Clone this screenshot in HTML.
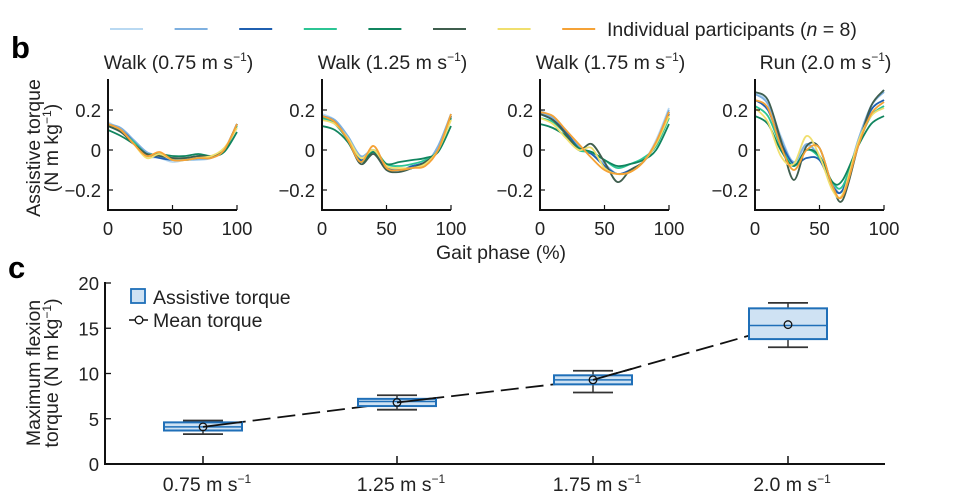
<!DOCTYPE html>
<html><head><meta charset="utf-8"><style>
body{margin:0;background:#fff;}
svg{display:block;font-family:"Liberation Sans",Arial,sans-serif;}
</style></head><body>
<svg id="fig" width="966" height="503" viewBox="0 0 966 503"></svg>
<script>
const NS='http://www.w3.org/2000/svg';
const svg=document.getElementById('fig');
function mk(tag,attrs,parent,text){const e=document.createElementNS(NS,tag);for(const k in attrs)e.setAttribute(k,attrs[k]);if(text!==undefined)e.textContent=text;(parent||svg).appendChild(e);return e;}

// ---- data ----
const colors=['#b9d9f2','#7eb0e0','#1f5fb0','#2cc594','#11855f','#3f5e4e','#f0df6e','#f5a236'];
const panelTitles=['Walk (0.75 m s','Walk (1.25 m s','Walk (1.75 m s','Run (2.0 m s'];
const walkPhase=[0,10,20,30,40,50,60,70,80,90,100];
const runPhase=[0,10,20,30,40,50,60,68,80,90,100];
const walk075=[
[0.14,0.10,0.04,-0.03,-0.04,-0.06,-0.05,-0.05,-0.04,0.0,0.13],
[0.13,0.11,0.05,-0.01,-0.03,-0.05,-0.05,-0.045,-0.04,0.0,0.13],
[0.13,0.10,0.04,-0.02,-0.04,-0.05,-0.05,-0.04,-0.035,0.0,0.13],
[0.12,0.09,0.04,-0.02,-0.02,-0.04,-0.04,-0.03,-0.03,0.0,0.12],
[0.10,0.07,0.03,-0.02,-0.02,-0.03,-0.03,-0.02,-0.03,-0.01,0.09],
[0.12,0.09,0.03,-0.02,-0.03,-0.04,-0.04,-0.03,-0.03,0.0,0.13],
[0.13,0.10,0.03,-0.04,-0.02,-0.05,-0.05,-0.04,-0.03,0.01,0.11],
[0.13,0.10,0.03,-0.03,-0.01,-0.05,-0.05,-0.04,-0.04,0.0,0.13]];
const walk125=[
[0.18,0.15,0.07,-0.03,-0.01,-0.08,-0.10,-0.09,-0.07,0.02,0.18],
[0.17,0.15,0.07,-0.03,0.0,-0.08,-0.10,-0.09,-0.07,0.02,0.18],
[0.16,0.13,0.05,-0.05,-0.01,-0.09,-0.10,-0.08,-0.06,0.0,0.16],
[0.16,0.13,0.05,-0.06,0.0,-0.07,-0.08,-0.07,-0.05,0.0,0.16],
[0.12,0.10,0.04,-0.06,-0.01,-0.07,-0.06,-0.05,-0.04,-0.01,0.12],
[0.17,0.14,0.05,-0.07,-0.02,-0.10,-0.11,-0.09,-0.06,0.0,0.17],
[0.15,0.13,0.06,-0.04,0.0,-0.08,-0.09,-0.09,-0.07,0.0,0.15],
[0.17,0.14,0.05,-0.06,0.02,-0.09,-0.10,-0.09,-0.08,0.0,0.18]];
const walk175=[
[0.20,0.16,0.10,0.02,-0.02,-0.08,-0.12,-0.10,-0.06,0.05,0.21],
[0.19,0.16,0.10,0.02,-0.02,-0.07,-0.12,-0.10,-0.06,0.04,0.20],
[0.18,0.15,0.09,0.01,-0.02,-0.08,-0.12,-0.10,-0.06,0.03,0.18],
[0.16,0.14,0.08,0.0,-0.01,-0.05,-0.09,-0.07,-0.04,0.02,0.16],
[0.13,0.11,0.07,0.01,-0.01,-0.05,-0.08,-0.07,-0.05,0.0,0.13],
[0.18,0.15,0.08,0.0,0.03,-0.06,-0.16,-0.10,-0.06,0.03,0.19],
[0.16,0.13,0.06,0.0,0.01,-0.09,-0.12,-0.11,-0.06,0.03,0.17],
[0.19,0.17,0.10,0.03,-0.04,-0.10,-0.12,-0.11,-0.06,0.04,0.19]];
const run20=[
[0.29,0.24,0.07,-0.06,0.02,-0.03,-0.17,-0.20,0.05,0.22,0.30],
[0.28,0.23,0.06,-0.06,0.03,-0.04,-0.17,-0.20,0.05,0.22,0.29],
[0.25,0.20,0.04,-0.07,-0.04,-0.05,-0.18,-0.20,0.03,0.20,0.25],
[0.22,0.17,0.02,-0.08,0.0,-0.04,-0.16,-0.18,0.03,0.17,0.22],
[0.17,0.13,0.0,-0.08,0.0,-0.03,-0.16,-0.15,0.02,0.13,0.17],
[0.29,0.25,0.05,-0.15,0.02,0.01,-0.18,-0.25,0.02,0.22,0.30],
[0.21,0.14,-0.03,-0.07,0.07,-0.03,-0.20,-0.22,0.04,0.17,0.21],
[0.25,0.21,0.02,-0.10,0.0,0.01,-0.18,-0.23,0.02,0.18,0.24]];
const yTicksTop=[-0.2,0,0.2];
const yTickLabelsTop=['\u22120.2','0','0.2'];
const xTicksTop=[0,50,100];

const speedCats=['0.75 m s','1.25 m s','1.75 m s','2.0 m s'];
const boxQ1=[3.7,6.4,8.8,13.8];
const boxMedian=[4.1,6.9,9.3,15.3];
const boxQ3=[4.6,7.2,9.8,17.2];
const whiskLo=[3.3,6.0,7.9,12.9];
const whiskHi=[4.8,7.6,10.3,17.8];
const meanTorque=[4.1,6.8,9.3,15.4];
const yTicksBot=[0,5,10,15,20];

const FS=19.5, TFS=18.5;

// ---- top legend ----
const lg=mk('g',{});
colors.forEach((c,i)=>{const l=mk('line',{x1:110+i*64.6,x2:143+i*64.6,y1:29,y2:29,stroke:c,'stroke-width':2},lg);

});
const lt=mk('text',{x:607,y:36,'font-size':FS,fill:'#222'},lg);

lt.innerHTML='Individual participants (<tspan font-style="italic">n</tspan> = 8)';

mk('text',{x:11,y:58,'font-size':31,'font-weight':'bold',},svg,'b');
mk('text',{x:8,y:278,'font-size':31,'font-weight':'bold',},svg,'c');

// ---- top panels ----
const panelX=[108,322,540,755];
const W=129, yTop=79, yBot=210;
const ysT=v=>150-v*200;
function smoothPath(pts){let d='M'+pts[0][0]+','+pts[0][1];for(let i=0;i<pts.length-1;i++){const p0=pts[Math.max(0,i-1)],p1=pts[i],p2=pts[i+1],p3=pts[Math.min(pts.length-1,i+2)];
const c1=[p1[0]+(p2[0]-p0[0])/6,p1[1]+(p2[1]-p0[1])/6],c2=[p2[0]-(p3[0]-p1[0])/6,p2[1]-(p3[1]-p1[1])/6];
d+=' C'+c1.join(',')+' '+c2.join(',')+' '+p2.join(',');}return d;}
const panelData=[walk075,walk125,walk175,run20];
const panelPhase=[walkPhase,walkPhase,walkPhase,runPhase];
panelData.forEach((series,pi)=>{
  const x0=panelX[pi];const xs=v=>x0+v/100*W;
  const g=mk('g',{});
  const t=mk('text',{x:x0+W/2+6,y:69,'font-size':FS,'text-anchor':'middle',fill:'#222'},g);
  
  t.innerHTML=panelTitles[pi]+'<tspan dy="-8" font-size="12">\u22121</tspan><tspan dy="8">)</tspan>';
  series.forEach((vals,si)=>{
    const pts=vals.map((v,k)=>[xs(panelPhase[pi][k]),ysT(v)]);
    const p=mk('path',{d:smoothPath(pts),fill:'none',stroke:colors[si],'stroke-width':1.8},g);
    
    
  });
  mk('line',{x1:x0,x2:x0,y1:yTop,y2:yBot+1,stroke:'#111','stroke-width':2},g);
  mk('line',{x1:x0-1,x2:x0+W,y1:yBot,y2:yBot,stroke:'#111','stroke-width':2},g);
  yTicksTop.forEach((v,k)=>{
    mk('line',{x1:x0,x2:x0+5,y1:ysT(v),y2:ysT(v),stroke:'#111','stroke-width':1.2},g);
    const tl=mk('text',{x:x0-7,y:ysT(v)+7,'font-size':TFS,'text-anchor':'end',fill:'#222'},g,yTickLabelsTop[k]);
    
  });
  xTicksTop.forEach(v=>{
    mk('line',{x1:xs(v),x2:xs(v),y1:yBot,y2:yBot-5,stroke:'#111','stroke-width':1.2},g);
    const tl=mk('text',{x:xs(v),y:235,'font-size':TFS,'text-anchor':'middle',fill:'#222'},g,String(v));
    
  });
});
mk('text',{x:501,y:259,'font-size':FS,'text-anchor':'middle',fill:'#222',},svg,'Gait phase (%)');
const yt=mk('text',{transform:'translate(40,148) rotate(-90)','font-size':FS,'text-anchor':'middle',fill:'#222',});
yt.innerHTML='<tspan x="0" dy="0">Assistive torque</tspan><tspan x="0" dy="18">(N m kg</tspan><tspan dy="-7" font-size="12">\u22121</tspan><tspan dy="7">)</tspan>';

// ---- bottom chart ----
const bx0=105,bx1=885;
const ysB=v=>464-v*9.05;
const catX=[203,397,593,788];
const bg=mk('g',{});
const mp=mk('polyline',{points:meanTorque.map((v,i)=>catX[i]+','+ysB(v)).join(' '),fill:'none',stroke:'#111','stroke-width':1.8,'stroke-dasharray':'18,7'},bg);

catX.forEach((cx,i)=>{
  const g=mk('g',{},bg);
  
  mk('line',{x1:cx,x2:cx,y1:ysB(whiskLo[i]),y2:ysB(whiskHi[i]),stroke:'#333','stroke-width':1.5},g);
  mk('line',{x1:cx-20,x2:cx+20,y1:ysB(whiskLo[i]),y2:ysB(whiskLo[i]),stroke:'#333','stroke-width':1.8},g);
  mk('line',{x1:cx-20,x2:cx+20,y1:ysB(whiskHi[i]),y2:ysB(whiskHi[i]),stroke:'#333','stroke-width':1.8},g);
  mk('rect',{x:cx-39,y:ysB(boxQ3[i]),width:78,height:ysB(boxQ1[i])-ysB(boxQ3[i]),fill:'#cfe2f3',stroke:'#1f6fb8','stroke-width':2},g);
  mk('line',{x1:cx-39,x2:cx+39,y1:ysB(boxMedian[i]),y2:ysB(boxMedian[i]),stroke:'#1f6fb8','stroke-width':1.5},g);
  if(i<catX.length-1){
    const nx=catX[i+1], ny=ysB(meanTorque[i+1]), cy=ysB(meanTorque[i]);
    const ex=cx+39, ey=cy+(ny-cy)*(39/(nx-cx));
    mk('line',{x1:cx,y1:cy,x2:ex,y2:ey,stroke:'#111','stroke-width':1.8},g);
  }
  const c=mk('circle',{cx:cx,cy:ysB(meanTorque[i]),r:3.8,fill:'none',stroke:'#111','stroke-width':1.3},g);
  
  mk('line',{x1:cx,x2:cx,y1:464,y2:456,stroke:'#111','stroke-width':1.5},g);
  const tl=mk('text',{x:cx+4,y:491,'font-size':FS,'text-anchor':'middle',fill:'#222'},g);
  
  tl.innerHTML=speedCats[i]+'<tspan dy="-8" font-size="12">\u22121</tspan>';
});
mk('line',{x1:bx0,x2:bx0,y1:282,y2:465,stroke:'#111','stroke-width':2},bg);
mk('line',{x1:bx0-1,x2:bx1,y1:464,y2:464,stroke:'#111','stroke-width':2},bg);
yTicksBot.forEach(v=>{
  mk('line',{x1:bx0,x2:bx0+6,y1:ysB(v),y2:ysB(v),stroke:'#111','stroke-width':1.3},bg);
  const tl=mk('text',{x:bx0-6,y:ysB(v)+7,'font-size':TFS,'text-anchor':'end',fill:'#222'},bg,String(v));
  
});
const yb=mk('text',{transform:'translate(40,373) rotate(-90)','font-size':FS,'text-anchor':'middle',fill:'#222',});
yb.innerHTML='<tspan x="0" dy="0">Maximum flexion</tspan><tspan x="0" dy="18">torque (N m kg</tspan><tspan dy="-7" font-size="12">\u22121</tspan><tspan dy="7">)</tspan>';
// legend
const bl=mk('g',{});
mk('rect',{x:131,y:289,width:14,height:14,fill:'#cfe2f3',stroke:'#1f6fb8','stroke-width':1.8},bl);
mk('text',{x:153,y:304,'font-size':FS,fill:'#222'},bl,'Assistive torque');
mk('line',{x1:129,x2:148,y1:320,y2:320,stroke:'#111','stroke-width':1.5},bl);
mk('circle',{cx:139,cy:320,r:3.8,fill:'#fff',stroke:'#111','stroke-width':1.3},bl);
mk('text',{x:153,y:327,'font-size':FS,fill:'#222'},bl,'Mean torque');
</script>
</body></html>
